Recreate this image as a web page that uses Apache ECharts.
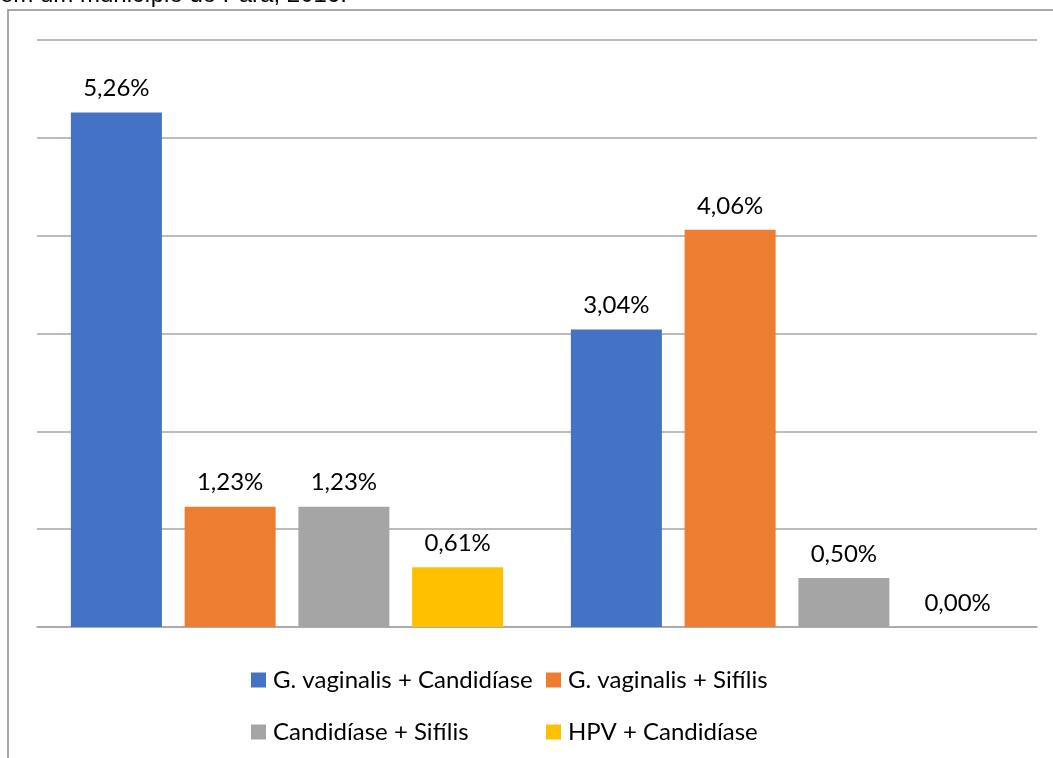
<!DOCTYPE html>
<html>
<head>
<meta charset="utf-8">
<script src="https://cdn.jsdelivr.net/npm/echarts@6/dist/echarts.min.js"></script>
<style>
  html, body { margin: 0; padding: 0; background: #fff; }
  #chart { width: 1053px; height: 758px; }
</style>
</head>
<body>
<div id="chart"></div>
<script>
// categories have no visible labels in the source image
const categories = ['Grupo 1', 'Grupo 2'];
const seriesNames = [
    'G. vaginalis + Candidíase',
    'G. vaginalis + Sifílis',
    'Candidíase + Sifílis',
    'HPV + Candidíase'
];
const gvCandidiase = [5.26, 3.04];
const gvSifilis = [1.23, 4.06];
const candidiaseSifilis = [1.23, 0.50];
const hpvCandidiase = [0.61, 0.00];
const yTicks = [0, 1, 2, 3, 4, 5, 6];

const colors = ['#4472C4', '#ED7D31', '#A5A5A5', '#FFC000'];
const seriesValues = [gvCandidiase, gvSifilis, candidiaseSifilis, hpvCandidiase];
const labelFont = 'Lato';

const fmtPct = (v) => v.toFixed(2).replace('.', ',') + '%';

// legend placed as a 2x2 grid: one legend component per entry
const legendPos = [
    { left: 251, top: 668 },
    { left: 546, top: 668 },
    { left: 251, top: 720 },
    { left: 546, top: 720 }
];

const chart = echarts.init(document.getElementById('chart'));
chart.setOption({
    animation: false,
    backgroundColor: '#fff',
    color: colors,
    grid: { left: 37, right: 16, top: 40, bottom: 131 },
    legend: seriesNames.map((name, i) => ({
        data: [name],
        left: legendPos[i].left,
        top: legendPos[i].top,
        padding: 0,
        icon: 'rect',
        itemWidth: 15,
        itemHeight: 15,
        itemGap: 0,
        selectedMode: false,
        textStyle: { fontFamily: labelFont, fontSize: 24, color: '#000', padding: [0, 0, 0, 2] }
    })),
    xAxis: {
        type: 'category',
        data: categories,
        axisLine: { show: true, lineStyle: { color: '#a6a6a6', width: 1.5 } },
        axisTick: { show: false },
        axisLabel: { show: false }
    },
    yAxis: {
        type: 'value',
        min: yTicks[0],
        max: yTicks[yTicks.length - 1],
        interval: 1,
        axisLine: { show: false },
        axisTick: { show: false },
        axisLabel: { show: false },
        splitLine: { lineStyle: { color: '#a6a6a6', width: 1.5 } }
    },
    graphic: [
        {
            type: 'polyline',
            shape: { points: [[8, 758], [8, 10], [1053, 10]] },
            style: { stroke: '#8c8c8c', lineWidth: 1.5, fill: null }
        },
        {
            type: 'text',
            left: 0,
            top: -17,
            style: {
                text: 'em um município do Pará, 2016.',
                font: '24px "Liberation Sans"',
                fill: '#000'
            }
        }
    ],
    series: seriesNames.map((name, i) => ({
        name: name,
        type: 'bar',
        data: seriesValues[i],
        barWidth: 91,
        barGap: '25%',
        itemStyle: { color: colors[i] },
        label: {
            show: true,
            position: 'top',
            distance: 12,
            formatter: (p) => fmtPct(p.value),
            fontFamily: labelFont,
            fontSize: 24,
            color: '#000'
        }
    }))
});
</script>
</body>
</html>
